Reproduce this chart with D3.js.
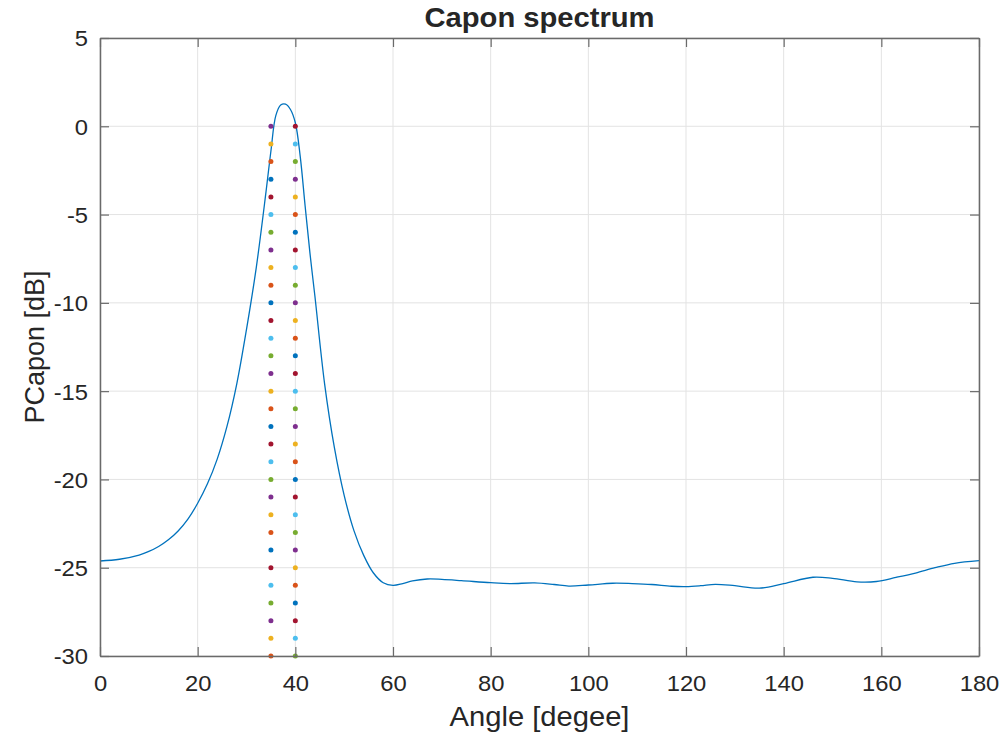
<!DOCTYPE html>
<html>
<head>
<meta charset="utf-8">
<script src="https://cdn.jsdelivr.net/npm/d3@7"></script>
<style>
  html, body { margin: 0; padding: 0; background: #fff; }
  svg text { font-family: "Liberation Sans", Arial, Helvetica, sans-serif; fill: #262626; }
</style>
</head>
<body>
<svg id="chart" width="1007" height="737"></svg>
<script>
// Capon spatial spectrum, sampled angle (deg) vs power (dB)
const angles = [0, 4, 8, 10, 12, 14, 16, 18, 20, 22, 24, 26, 28, 30, 32, 34, 35, 36, 37, 38, 39, 40,
  41, 42, 43, 44, 46, 48, 50, 52, 54, 56, 58, 60, 62, 64, 67, 70, 74, 80, 84, 89, 93, 96,
  100, 105, 109, 113, 117, 120, 123, 126, 130, 135, 140, 146, 150, 155, 159, 163, 167, 171, 175, 180];
const pcapon = [-24.62, -24.52, -24.28, -24.08, -23.8, -23.42, -22.92, -22.25, -21.35, -20.25, -18.85, -17.0, -14.6, -11.5, -8.0, -3.7, -1.4, 0.6, 1.2, 1.25, 0.95, 0.2,
  -1.7, -4.5, -7.2, -9.6, -14.6, -18.2, -20.9, -22.9, -24.3, -25.3, -25.85, -26.0, -25.9, -25.75, -25.64, -25.66, -25.73, -25.85, -25.9, -25.86, -25.95, -26.04,
  -25.98, -25.88, -25.9, -25.95, -26.05, -26.07, -26.02, -25.94, -26.02, -26.16, -25.9, -25.54, -25.6, -25.8, -25.78, -25.55, -25.3, -25.0, -24.75, -24.6];

// Marker columns at the two source angles, one point per dB level
const markerAngles = [35, 40];
const markerLevels = d3.range(-30, 1, 1);

// Default line colour order
const colorOrder = ["#0072BD", "#D95319", "#EDB120", "#7E2F8E", "#77AC30", "#4DBEEE", "#A2142F"];

const xTicks = [0, 20, 40, 60, 80, 100, 120, 140, 160, 180];
const yTicks = [5, 0, -5, -10, -15, -20, -25, -30];

const margin = { left: 100, right: 28, top: 38, bottom: 81 };
const W = 1007, H = 737;
const stretch = 1.08;   // slightly wide lettering
const svg = d3.select("#chart");

const x = d3.scaleLinear().domain([0, 180]).range([margin.left, W - margin.right]);
const y = d3.scaleLinear().domain([-30, 5]).range([H - margin.bottom, margin.top]);

// grid
const grid = svg.append("g");
grid.selectAll("line.gx").data(xTicks).join("line")
  .attr("x1", d => x(d)).attr("x2", d => x(d))
  .attr("y1", y(-30)).attr("y2", y(5))
  .attr("stroke", "#e3e3e3").attr("stroke-width", 1);
grid.selectAll("line.gy").data(yTicks).join("line")
  .attr("x1", x(0)).attr("x2", x(180))
  .attr("y1", d => y(d)).attr("y2", d => y(d))
  .attr("stroke", "#e3e3e3").attr("stroke-width", 1);

// spectrum curve
const line = d3.line()
  .x((d, i) => x(angles[i]))
  .y(d => y(d))
  .curve(d3.curveCatmullRom.alpha(0.5));
svg.append("path")
  .datum(pcapon)
  .attr("d", line)
  .attr("fill", "none")
  .attr("stroke", "#0072BD")
  .attr("stroke-width", 1.3);

// marker points, colours cycling after the curve
const pts = [];
let k = 1;
markerAngles.forEach(a => {
  markerLevels.forEach(v => {
    pts.push({ a, v, c: colorOrder[k % colorOrder.length] });
    k++;
  });
});
svg.append("g").selectAll("circle").data(pts).join("circle")
  .attr("cx", d => x(d.a)).attr("cy", d => y(d.v))
  .attr("r", 2.5).attr("fill", d => d.c);

// axes: ticks inside on all four sides
const tickLen = 9;
const axisColor = "#6a6a6a";
const fmt = d => String(d);
const axB = svg.append("g").attr("transform", `translate(0,${y(-30)})`)
  .call(d3.axisBottom(x).tickValues(xTicks).tickFormat(fmt).tickSizeInner(-tickLen).tickSizeOuter(0).tickPadding(19));
const axT = svg.append("g").attr("transform", `translate(0,${y(5)})`)
  .call(d3.axisTop(x).tickValues(xTicks).tickSizeInner(-tickLen).tickSizeOuter(0).tickFormat(""));
const axL = svg.append("g").attr("transform", `translate(${x(0)},0)`)
  .call(d3.axisLeft(y).tickValues(yTicks).tickFormat(fmt).tickSizeInner(-tickLen).tickSizeOuter(0).tickPadding(12));
const axR = svg.append("g").attr("transform", `translate(${x(180)},0)`)
  .call(d3.axisRight(y).tickValues(yTicks).tickSizeInner(-tickLen).tickSizeOuter(0).tickFormat(""));

[axB, axT, axL, axR].forEach(g => {
  g.select(".domain").attr("stroke", axisColor).attr("stroke-width", 1.5);
  g.selectAll(".tick line").attr("stroke", axisColor).attr("stroke-width", 1.2);
  g.selectAll(".tick text").attr("font-size", 22).attr("fill", "#262626")
    .attr("font-family", "'Liberation Sans', Arial, sans-serif");
});
axB.selectAll(".tick text").attr("transform", `scale(${stretch},1)`);
// left labels: right edge kept at 12px from the axis after stretching
axL.selectAll(".tick text").attr("dy", "0.36em")
  .attr("x", -12 / stretch).attr("transform", `scale(${stretch},1)`);

// titles
function stretchedText(cx, cy, size, str, bold) {
  return svg.append("text")
    .attr("transform", `translate(${cx},${cy}) scale(${stretch},1)`)
    .attr("text-anchor", "middle").attr("font-size", size)
    .attr("font-weight", bold ? "bold" : "normal")
    .text(str);
}
stretchedText((x(0) + x(180)) / 2, 27, 27, "Capon spectrum", true);
stretchedText((x(0) + x(180)) / 2, 726, 27, "Angle [degee]", false);
svg.append("text")
  .attr("transform", `translate(44,${(y(5) + y(-30)) / 2}) rotate(-90)`)
  .attr("text-anchor", "middle").attr("font-size", 27)
  .text("PCapon [dB]");
</script>
</body>
</html>
